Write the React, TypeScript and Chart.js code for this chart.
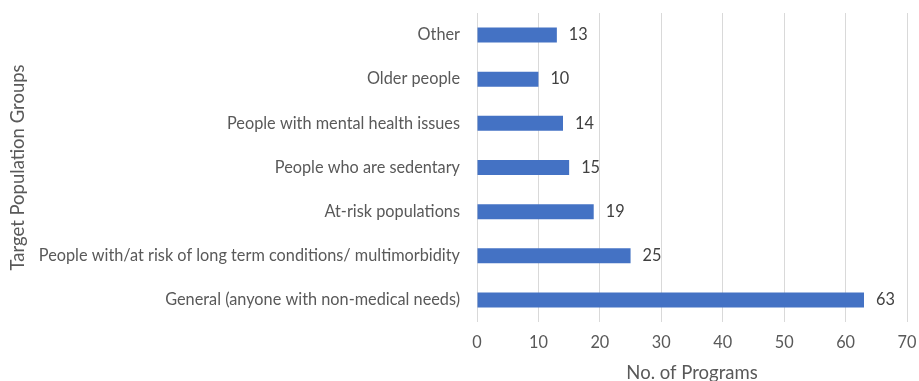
import React, { useEffect, useRef } from "react";
import { Chart, registerables } from "chart.js";

Chart.register(...registerables);

const categories = [
  "Other",
  "Older people",
  "People with mental health issues",
  "People who are sedentary",
  "At-risk populations",
  "People with/at risk of long term conditions/ multimorbidity",
  "General (anyone with non-medical needs)",
];
const programCounts = [13, 10, 14, 15, 19, 25, 63];
const xTitle = "No. of Programs";
const yTitle = "Target Population Groups";

const FONT = "Lato, 'Open Sans', sans-serif";
const LABEL_SIZE = 16.3;
const TITLE_SIZE = 18.5;

const valueLabels = {
  id: "valueLabels",
  afterDatasetsDraw(chart: any) {
    const ctx = chart.ctx;
    const meta = chart.getDatasetMeta(0);
    ctx.save();
    ctx.font = `${LABEL_SIZE}px ${FONT}`;
    ctx.fillStyle = "#404040";
    ctx.textAlign = "left";
    ctx.textBaseline = "middle";
    meta.data.forEach((el: any, i: number) => {
      ctx.fillText(String(programCounts[i]), el.x + 12, el.y);
    });
    ctx.restore();
  },
};

export default function App() {
  const ref = useRef<HTMLCanvasElement>(null);
  useEffect(() => {
    document.body.style.margin = "0";
    const chart = new Chart(ref.current!, {
      type: "bar",
      data: {
        labels: categories,
        datasets: [
          {
            data: programCounts,
            backgroundColor: "#4472C4",
            borderWidth: 0,
            barPercentage: 0.68,
            categoryPercentage: 0.5,
          },
        ],
      },
      options: {
        indexAxis: "y",
        responsive: false,
        animation: false,
        layout: { padding: { top: 13, right: 12, bottom: 0, left: 0 } },
        plugins: { legend: { display: false }, tooltip: { enabled: false } },
        scales: {
          x: {
            min: 0,
            max: 70,
            ticks: {
              stepSize: 10,
              color: "#595959",
              font: { family: FONT, size: LABEL_SIZE },
              padding: 11,
            },
            grid: { color: "#d9d9d9", drawTicks: false },
            border: { display: false },
            title: {
              display: true,
              text: xTitle,
              color: "#595959",
              font: { family: FONT, size: TITLE_SIZE, lineHeight: 1 },
              padding: { top: 0, bottom: -1 },
            },
            afterFit(scale: any) {
              scale.height = 59;
              scale.paddingLeft = 0;
              scale.paddingRight = 0;
            },
          },
          y: {
            ticks: {
              color: "#595959",
              font: { family: FONT, size: LABEL_SIZE },
              padding: 17,
            },
            grid: { display: false, drawTicks: false },
            border: { display: false },
            title: {
              display: true,
              text: yTitle,
              color: "#595959",
              font: { family: FONT, size: TITLE_SIZE },
              padding: { top: 7, bottom: 0 },
            },
            afterFit(scale: any) {
              scale.width = 477;
              scale.paddingTop = 0;
              scale.paddingBottom = 0;
            },
          },
        },
      },
      plugins: [valueLabels],
    });
    return () => chart.destroy();
  }, []);
  return <canvas ref={ref} width={919} height={381} style={{ display: "block" }} />;
}
